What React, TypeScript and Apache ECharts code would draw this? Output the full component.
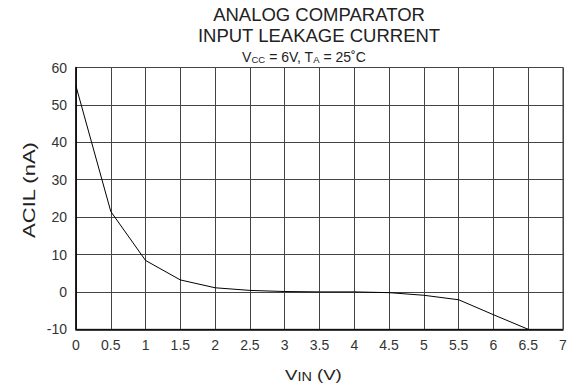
import React, { useEffect, useRef } from "react";
import * as echarts from "echarts";

const xValues = [0, 0.5, 1, 1.5, 2, 2.5, 3, 3.5, 4, 4.5, 5, 5.5, 6, 6.5];
const acilValues = [55, 21.5, 8.4, 3.2, 1.1, 0.4, 0.1, 0, 0, -0.2, -0.9, -2.1, -6.1, -10];
const titleLines = ["ANALOG COMPARATOR", "INPUT LEAKAGE CURRENT"];
const yAxisName = "ACIL (nA)";

const FONT = "'Liberation Sans', Arial, sans-serif";

export default function App() {
  const ref = useRef<HTMLDivElement>(null);
  useEffect(() => {
    document.body.style.margin = "0";
    if (!ref.current) return;
    const chart = echarts.init(ref.current, null, { renderer: "svg" });
    const data = xValues.map((x, i) => [x, acilValues[i]]);
    chart.setOption({
      animation: false,
      backgroundColor: "#fff",
      textStyle: { fontFamily: FONT },
      grid: {
        left: 76,
        right: 15,
        top: 67.5,
        bottom: 61.7,
        show: true,
        borderColor: "#333",
        borderWidth: 1,
        backgroundColor: "transparent",
      },
      xAxis: {
        type: "value",
        min: 0,
        max: 7,
        interval: 0.5,
        axisLine: { show: true, onZero: false, lineStyle: { color: "#000", width: 1.5 } },
        axisTick: { show: false },
        axisLabel: { margin: 9, fontSize: 14, color: "#333", fontFamily: FONT },
        splitLine: { show: true, lineStyle: { color: "#444", width: 1 } },
      },
      yAxis: {
        type: "value",
        min: -10,
        max: 60,
        interval: 10,
        axisLine: { show: true, onZero: false, lineStyle: { color: "#000", width: 1.5 } },
        axisTick: { show: false },
        axisLabel: { margin: 9, fontSize: 14, color: "#333", fontFamily: FONT },
        splitLine: { show: true, lineStyle: { color: "#444", width: 1 } },
      },
      series: [
        {
          type: "line",
          data,
          showSymbol: false,
          symbol: "none",
          lineStyle: { color: "#000", width: 1 },
        },
      ],
      graphic: [
        {
          type: "text",
          x: 319,
          y: 4,
          style: {
            text: titleLines.join("\n"),
            fontSize: 18.5,
            lineHeight: 21.3,
            fontFamily: FONT,
            fill: "#222",
            align: "center",
            verticalAlign: "top",
          },
        },
        {
          type: "text",
          x: 304,
          y: 50,
          style: {
            text: "V{sub|CC} = 6V, T{sub|A} = 25˚C",
            fontSize: 14,
            fontFamily: FONT,
            fill: "#222",
            align: "center",
            verticalAlign: "top",
            rich: {
              sub: { fontSize: 9.5, fontFamily: FONT, fill: "#222", verticalAlign: "bottom" },
            },
          },
        },
        {
          type: "text",
          x: 29,
          y: 190,
          rotation: Math.PI / 2,
          scaleX: 1.28,
          style: {
            text: yAxisName,
            fontSize: 17.2,
            fontFamily: FONT,
            fill: "#222",
            align: "center",
            verticalAlign: "middle",
          },
        },
        {
          type: "text",
          x: 313.4,
          y: 375,
          scaleX: 1.2,
          style: {
            text: "V{sub|IN} (V)",
            fontSize: 15.5,
            fontFamily: FONT,
            fill: "#222",
            align: "center",
            verticalAlign: "middle",
            rich: {
              sub: { fontSize: 12, fontFamily: FONT, fill: "#222", verticalAlign: "bottom" },
            },
          },
        },
      ],
    });
    return () => chart.dispose();
  }, []);
  return <div ref={ref} style={{ width: 578, height: 391 }} />;
}
